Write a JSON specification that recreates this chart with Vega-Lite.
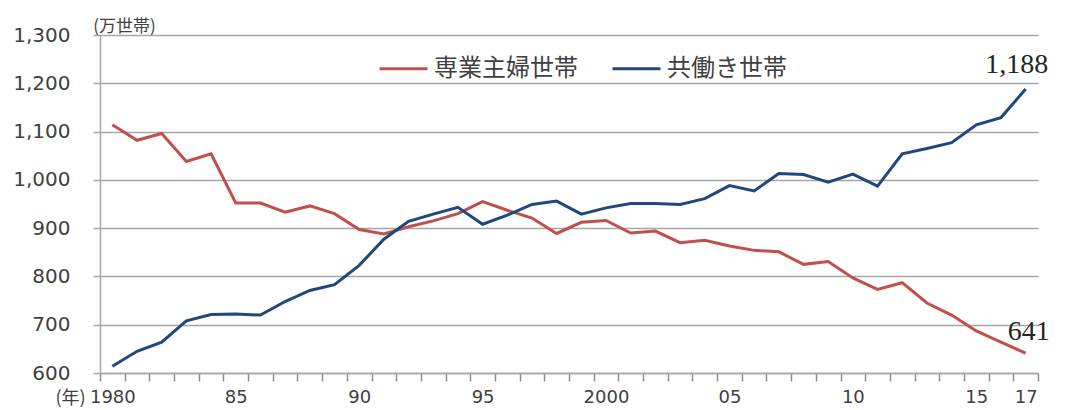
{
  "$schema": "https://vega.github.io/schema/vega-lite/v6.json",
  "autosize": {"type": "none"},
  "width": 938,
  "height": 338,
  "padding": {"left": 100, "top": 35, "right": 32, "bottom": 37},
  "background": "white",
  "config": {"view": {"stroke": null}, "font": "Noto Sans CJK JP"},
  "data": {"values": [
    {"year": 1980, "type": "専業主婦世帯", "value": 1114}, {"year": 1981, "type": "専業主婦世帯", "value": 1082},
    {"year": 1982, "type": "専業主婦世帯", "value": 1096}, {"year": 1983, "type": "専業主婦世帯", "value": 1038},
    {"year": 1984, "type": "専業主婦世帯", "value": 1054}, {"year": 1985, "type": "専業主婦世帯", "value": 952},
    {"year": 1986, "type": "専業主婦世帯", "value": 952}, {"year": 1987, "type": "専業主婦世帯", "value": 933},
    {"year": 1988, "type": "専業主婦世帯", "value": 946}, {"year": 1989, "type": "専業主婦世帯", "value": 930},
    {"year": 1990, "type": "専業主婦世帯", "value": 897}, {"year": 1991, "type": "専業主婦世帯", "value": 888},
    {"year": 1992, "type": "専業主婦世帯", "value": 903}, {"year": 1993, "type": "専業主婦世帯", "value": 915},
    {"year": 1994, "type": "専業主婦世帯", "value": 930}, {"year": 1995, "type": "専業主婦世帯", "value": 955},
    {"year": 1996, "type": "専業主婦世帯", "value": 937}, {"year": 1997, "type": "専業主婦世帯", "value": 921},
    {"year": 1998, "type": "専業主婦世帯", "value": 889}, {"year": 1999, "type": "専業主婦世帯", "value": 912},
    {"year": 2000, "type": "専業主婦世帯", "value": 916}, {"year": 2001, "type": "専業主婦世帯", "value": 890},
    {"year": 2002, "type": "専業主婦世帯", "value": 894}, {"year": 2003, "type": "専業主婦世帯", "value": 870},
    {"year": 2004, "type": "専業主婦世帯", "value": 875}, {"year": 2005, "type": "専業主婦世帯", "value": 863},
    {"year": 2006, "type": "専業主婦世帯", "value": 854}, {"year": 2007, "type": "専業主婦世帯", "value": 851},
    {"year": 2008, "type": "専業主婦世帯", "value": 825}, {"year": 2009, "type": "専業主婦世帯", "value": 831},
    {"year": 2010, "type": "専業主婦世帯", "value": 797}, {"year": 2011, "type": "専業主婦世帯", "value": 773},
    {"year": 2012, "type": "専業主婦世帯", "value": 787}, {"year": 2013, "type": "専業主婦世帯", "value": 745},
    {"year": 2014, "type": "専業主婦世帯", "value": 720}, {"year": 2015, "type": "専業主婦世帯", "value": 687},
    {"year": 2016, "type": "専業主婦世帯", "value": 664}, {"year": 2017, "type": "専業主婦世帯", "value": 641},
    {"year": 1980, "type": "共働き世帯", "value": 614}, {"year": 1981, "type": "共働き世帯", "value": 645},
    {"year": 1982, "type": "共働き世帯", "value": 664}, {"year": 1983, "type": "共働き世帯", "value": 708},
    {"year": 1984, "type": "共働き世帯", "value": 721}, {"year": 1985, "type": "共働き世帯", "value": 722},
    {"year": 1986, "type": "共働き世帯", "value": 720}, {"year": 1987, "type": "共働き世帯", "value": 748},
    {"year": 1988, "type": "共働き世帯", "value": 771}, {"year": 1989, "type": "共働き世帯", "value": 783},
    {"year": 1990, "type": "共働き世帯", "value": 823}, {"year": 1991, "type": "共働き世帯", "value": 877},
    {"year": 1992, "type": "共働き世帯", "value": 914}, {"year": 1993, "type": "共働き世帯", "value": 929},
    {"year": 1994, "type": "共働き世帯", "value": 943}, {"year": 1995, "type": "共働き世帯", "value": 908},
    {"year": 1996, "type": "共働き世帯", "value": 927}, {"year": 1997, "type": "共働き世帯", "value": 949},
    {"year": 1998, "type": "共働き世帯", "value": 956}, {"year": 1999, "type": "共働き世帯", "value": 929},
    {"year": 2000, "type": "共働き世帯", "value": 942}, {"year": 2001, "type": "共働き世帯", "value": 951},
    {"year": 2002, "type": "共働き世帯", "value": 951}, {"year": 2003, "type": "共働き世帯", "value": 949},
    {"year": 2004, "type": "共働き世帯", "value": 961}, {"year": 2005, "type": "共働き世帯", "value": 988},
    {"year": 2006, "type": "共働き世帯", "value": 977}, {"year": 2007, "type": "共働き世帯", "value": 1013},
    {"year": 2008, "type": "共働き世帯", "value": 1011}, {"year": 2009, "type": "共働き世帯", "value": 995},
    {"year": 2010, "type": "共働き世帯", "value": 1012}, {"year": 2011, "type": "共働き世帯", "value": 987},
    {"year": 2012, "type": "共働き世帯", "value": 1054}, {"year": 2013, "type": "共働き世帯", "value": 1065},
    {"year": 2014, "type": "共働き世帯", "value": 1077}, {"year": 2015, "type": "共働き世帯", "value": 1114},
    {"year": 2016, "type": "共働き世帯", "value": 1129}, {"year": 2017, "type": "共働き世帯", "value": 1188}
  ]},
  "encoding": {
    "x": {
      "field": "year", "type": "quantitative",
      "scale": {"domain": [1979.5, 2017.5], "nice": false, "zero": false},
      "axis": {
        "values": [1979.5, 1980.5, 1981.5, 1982.5, 1983.5, 1984.5, 1985.5, 1986.5, 1987.5, 1988.5, 1989.5, 1990.5, 1991.5, 1992.5, 1993.5, 1994.5, 1995.5, 1996.5, 1997.5, 1998.5, 1999.5, 2000.5, 2001.5, 2002.5, 2003.5, 2004.5, 2005.5, 2006.5, 2007.5, 2008.5, 2009.5, 2010.5, 2011.5, 2012.5, 2013.5, 2014.5, 2015.5, 2016.5, 2017.5],
        "labelExpr": "indexof([1980, 1985, 1990, 1995, 2000, 2005, 2010, 2015, 2017], datum.value + 0.5) < 0 ? '' : (datum.value + 0.5 == 1980 || datum.value + 0.5 == 2000 ? format(datum.value + 0.5, 'd') : slice(format(datum.value + 0.5, 'd'), 2))",
        "labelOffset": 12.34, "labelOverlap": false, "labelBound": false, "labelFlush": false,
        "ticks": true, "tickSize": 8, "tickColor": "#8c8c8c", "tickWidth": 1.5, "tickOpacity": 1,
        "grid": false, "domain": true, "domainColor": "#a6a6a6", "domainWidth": 1.5,
        "labelFont": "DejaVu Sans", "labelFontSize": 18, "labelColor": "#404040", "labelPadding": 7,
        "title": "(年)", "titleX": -30, "titleY": 25, "titleAlign": "center", "titleBaseline": "middle",
        "titleFontSize": 18, "titleFontWeight": "normal", "titleColor": "#404040"
      }
    },
    "y": {
      "field": "value", "type": "quantitative",
      "scale": {"domain": [600, 1300], "nice": false, "zero": false},
      "axis": {
        "values": [600, 700, 800, 900, 1000, 1100, 1200, 1300],
        "format": ",d", "grid": true, "gridColor": "#a6a6a6", "gridWidth": 1.5,
        "domain": true, "domainColor": "#a6a6a6", "domainWidth": 1.5,
        "ticks": true, "tickSize": 7, "tickColor": "#a6a6a6", "tickWidth": 1.5,
        "labelFont": "DejaVu Sans", "labelFontSize": 20, "labelColor": "#404040", "labelPadding": 23,
        "title": "(万世帯)", "titleAngle": 0, "titleX": 24, "titleY": -9, "titleAlign": "center",
        "titleBaseline": "middle", "titleFontSize": 17, "titleFontWeight": "normal", "titleColor": "#404040"
      }
    }
  },
  "layer": [
    {
      "mark": {"type": "line", "strokeWidth": 3},
      "encoding": {
        "color": {
          "field": "type", "type": "nominal",
          "scale": {"domain": ["専業主婦世帯", "共働き世帯"], "range": ["#c0504d", "#1f497d"]},
          "legend": {
            "orient": "none", "legendX": 278, "legendY": 8, "direction": "horizontal", "title": null,
            "symbolType": "stroke", "symbolSize": 2304, "symbolStrokeWidth": 3,
            "labelFontSize": 24, "labelColor": "#404040", "labelOffset": 5, "columnPadding": 28
          }
        }
      }
    },
    {
      "transform": [{"filter": "datum.year == 2017 && datum.type == '共働き世帯'"}],
      "mark": {"type": "text", "font": "Liberation Serif", "fontSize": 28, "color": "#262626", "baseline": "middle", "align": "center", "dx": -9, "dy": -24},
      "encoding": {"text": {"field": "value", "type": "quantitative", "format": ",d"}}
    },
    {
      "transform": [{"filter": "datum.year == 2017 && datum.type == '専業主婦世帯'"}],
      "mark": {"type": "text", "font": "Liberation Serif", "fontSize": 28, "color": "#262626", "baseline": "middle", "align": "center", "dx": 3, "dy": -21},
      "encoding": {"text": {"field": "value", "type": "quantitative", "format": ",d"}}
    }
  ]
}
